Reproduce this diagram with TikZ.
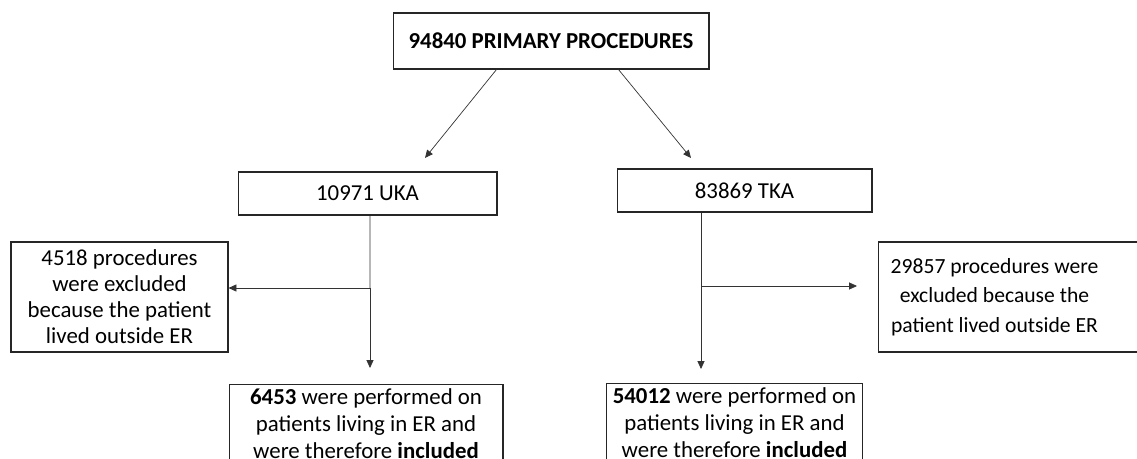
\documentclass[tikz,border=0pt]{standalone}
\usepackage{fontspec}
\setmainfont{Carlito}
\usetikzlibrary{arrows.meta,calc}

\tikzset{
  box/.style={draw=black!85,line width=0.6pt,align=center,font=\fontsize{13}{14.8}\selectfont},
  arr/.style={draw=black!80,line width=0.4pt,-{Triangle[length=4.5pt,width=4pt]}}
}

\begin{document}
\begin{tikzpicture}[x=0.02cm,y=-0.02cm]

\useasboundingbox (0,0) rectangle (1137,459);

% ============================
% TOP — ALL PROCEDURES
% ============================
\node[box,minimum width=6.32cm,minimum height=1.12cm] (total) at (551,41)
  {\textbf{94840 PRIMARY PROCEDURES}};

% ============================
% SPLIT — UKA / TKA
% ============================
\node[box,minimum width=5.18cm,minimum height=0.86cm] (uka) at (367.5,193.5) {10971 UKA};
\node[box,minimum width=5.10cm,minimum height=0.86cm] (tka) at (744.5,190.5) {83869 TKA};

\coordinate (ukaTip) at (425,158);
\coordinate (tkaTip) at (691,158);
\draw[arr] ($(total.south west)+(104,0)$) -- (ukaTip);
\draw[arr] ($(total.south east)+(-91,0)$) -- (tkaTip);

% ============================
% EXCLUDED
% ============================
\node[box,minimum width=4.34cm,minimum height=2.2cm] (exclU) at (119.5,297)
  {4518 procedures\\were excluded\\because the patient\\lived outside ER};

\node[box,anchor=west,inner xsep=0pt,minimum height=2.2cm] (exclT) at (878,297)
  {\parbox{4.64cm}{\centering\fontsize{12.3}{16.7}\selectfont
   29857 procedures were\\excluded because the\\patient lived outside ER}\hspace*{1cm}};

% ============================
% INCLUDED
% ============================
\node[box,anchor=north,minimum width=5.48cm,inner ysep=2.5pt,font=\fontsize{13}{15.2}\selectfont] (inclU) at (366,384)
  {\textbf{6453} were performed on\\patients living in ER and\\were therefore \textbf{included}};
\node[box,anchor=north,minimum width=5.02cm,inner ysep=2.5pt,font=\fontsize{13}{15.2}\selectfont] (inclT) at (734.5,383)
  {\textbf{54012} were performed on\\patients living in ER and\\were therefore \textbf{included}};

% Flow lines
\coordinate (ukaSplit) at (370,288);
\coordinate (ukaDown) at (370,368);
\draw[draw=black!80,line width=0.4pt] ($(uka.south)+(2.5,0)$) -- (ukaSplit);
\draw[arr] (ukaSplit) -- (ukaDown);
\draw[arr] (ukaSplit) -- (ukaSplit -| exclU.east);

\coordinate (tkaSplit) at (701,286);
\coordinate (tkaDown) at (701,369);
\coordinate (tkaSide) at (857,286);
\draw[draw=black!80,line width=0.4pt] ($(tka.south)+(-43.5,0)$) -- (tkaSplit);
\draw[arr] (tkaSplit) -- (tkaDown);
\draw[arr] (tkaSplit) -- (tkaSide);

\end{tikzpicture}
\end{document}
